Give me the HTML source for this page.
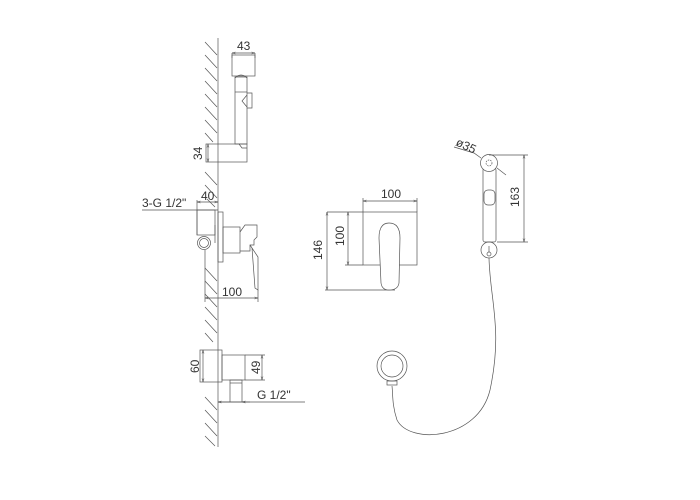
<!DOCTYPE html>
<html><head><style>
html,body{margin:0;padding:0;background:#fff;}
svg{display:block;}
text{font-family:"Liberation Sans",sans-serif;fill:#333;font-size:12px;}
</style></head><body>
<svg width="700" height="500" viewBox="0 0 700 500" xmlns="http://www.w3.org/2000/svg">
<defs>
<marker id="a" viewBox="0 0 10 10" refX="10" refY="5" markerWidth="5" markerHeight="5" orient="auto-start-reverse"><path d="M0,2 L10,5 L0,8" fill="none" stroke="#444" stroke-width="1.2"/></marker>
</defs>
<g stroke="#555" stroke-width="0.7" fill="none">
<line x1="218" y1="38" x2="218" y2="447"/>
<path d="M205,42 l12,13 M205,55 l12,13 M205,68 l12,13 M205,81 l12,13 M205,94 l12,13 M205,107 l12,13 M205,120 l12,13 M205,133 l8,9
M205,172 l12,13 M205,185 l12,13 M207,199 l8,8
M205,268 l12,13 M205,281 l12,13 M205,294 l12,13 M205,307 l12,13 M205,320 l12,13 M205,333 l8,9
M205,397 l12,13 M205,410 l12,13 M205,423 l12,13 M205,436 l10,10"/>
<rect x="232" y="55" width="23" height="21"/>
<path d="M235,78 Q241,72 247,78"/>
<rect x="235" y="77" width="12" height="67"/>
<line x1="235" y1="92" x2="247" y2="92"/>
<path d="M247,95 l-5,6 l5,6 M247,93 h5 v15 h-5"/>
<rect x="206" y="144" width="41" height="18"/>
<path d="M239,144 l3,4 h5"/>
<line x1="232" y1="53" x2="255" y2="53" marker-start="url(#a)" marker-end="url(#a)"/>
<line x1="232" y1="53" x2="232" y2="58"/><line x1="255" y1="53" x2="255" y2="58"/>
<line x1="208" y1="144" x2="208" y2="162" marker-start="url(#a)" marker-end="url(#a)"/>
<line x1="142" y1="210" x2="218" y2="210"/>
<line x1="197" y1="202" x2="218" y2="202" marker-start="url(#a)" marker-end="url(#a)"/>
<line x1="197" y1="200" x2="197" y2="235"/>
<rect x="197" y="210" width="18" height="25"/>
<line x1="215" y1="225" x2="215" y2="243"/>
<circle cx="204" cy="243" r="6.5"/><circle cx="204" cy="243" r="4.5"/>
<line x1="205" y1="250" x2="205" y2="302"/>
<rect x="218" y="212" width="5" height="50"/>
<rect x="223" y="227" width="17" height="26"/>
<path d="M240,232 l5,-7 h12 v12 l-3,3 v5 l-4,0 v6 h-10"/>
<path d="M250,245 l8,12 v33 l-3,-2 l-3,-40"/>
<line x1="205" y1="298" x2="258" y2="298" marker-start="url(#a)" marker-end="url(#a)"/>
<line x1="258" y1="290" x2="258" y2="302"/>
<rect x="200" y="350" width="22" height="32"/>
<rect x="222" y="355" width="23" height="25"/>
<rect x="230" y="380" width="12" height="22"/>
<line x1="230" y1="383" x2="242" y2="383"/>
<line x1="203" y1="350" x2="203" y2="382" marker-start="url(#a)" marker-end="url(#a)"/>
<line x1="245" y1="355" x2="265" y2="355"/><line x1="245" y1="380" x2="265" y2="380"/>
<line x1="262" y1="355" x2="262" y2="380" marker-start="url(#a)" marker-end="url(#a)"/>
<line x1="218" y1="402" x2="305" y2="402"/>
<line x1="218" y1="402" x2="230" y2="402" marker-start="url(#a)"/>
<line x1="242" y1="402" x2="250" y2="402" marker-start="url(#a)"/>
<rect x="363" y="212" width="54" height="53"/>
<line x1="363" y1="201" x2="417" y2="201" marker-start="url(#a)" marker-end="url(#a)"/>
<line x1="363" y1="198" x2="363" y2="212"/><line x1="417" y1="198" x2="417" y2="212"/>
<line x1="327" y1="212" x2="363" y2="212"/>
<line x1="327" y1="212" x2="327" y2="290" marker-start="url(#a)" marker-end="url(#a)"/>
<line x1="345" y1="265" x2="363" y2="265"/>
<line x1="348" y1="212" x2="348" y2="265" marker-start="url(#a)" marker-end="url(#a)"/>
<line x1="325" y1="290" x2="395" y2="290"/>
<path d="M379,238 Q379,223 389,223 Q400,223 400,238 L399,283 Q398,290 389,290 Q382,290 381,283 Z" fill="#fff"/>
<rect x="483" y="168" width="13" height="74" rx="2" fill="#fff"/>
<circle cx="489" cy="163" r="8.5" fill="#fff"/>
<circle cx="489" cy="163" r="3" stroke-dasharray="1.5,1"/>
<rect x="484" y="190" width="11" height="15" rx="4"/>
<circle cx="489" cy="250" r="8"/>
<circle cx="489" cy="254" r="2"/>
<line x1="489" y1="246" x2="489" y2="252"/>
<line x1="489" y1="155" x2="528" y2="155"/><line x1="497" y1="242" x2="528" y2="242"/>
<line x1="524" y1="155" x2="524" y2="242" marker-start="url(#a)" marker-end="url(#a)"/>
<path d="M454,147 L474,153 L481,158 M497,168 L506,175"/>
<path d="M489,258 C490,300 503,330 490,390 C478,440 410,445 397,420 C392,405 393,395 392,386"/>
<circle cx="392" cy="366" r="15"/><circle cx="392" cy="366" r="11"/>
<rect x="387" y="381" width="10" height="4"/>
</g>
<text x="237" y="50">43</text>
<text transform="translate(202,160) rotate(-90)">34</text>
<text x="142" y="207">3-G 1/2"</text>
<text x="201" y="200">40</text>
<text x="222" y="296">100</text>
<text transform="translate(199,373) rotate(-90)">60</text>
<text transform="translate(260,374) rotate(-90)">49</text>
<text x="257" y="399">G 1/2"</text>
<text x="381" y="198">100</text>
<text transform="translate(322,260) rotate(-90)">146</text>
<text transform="translate(344,246) rotate(-90)">100</text>
<text transform="translate(519,207) rotate(-90)">163</text>
<text transform="translate(455,145) rotate(25)" font-size="10">ø35</text>
</svg>
</body></html>
